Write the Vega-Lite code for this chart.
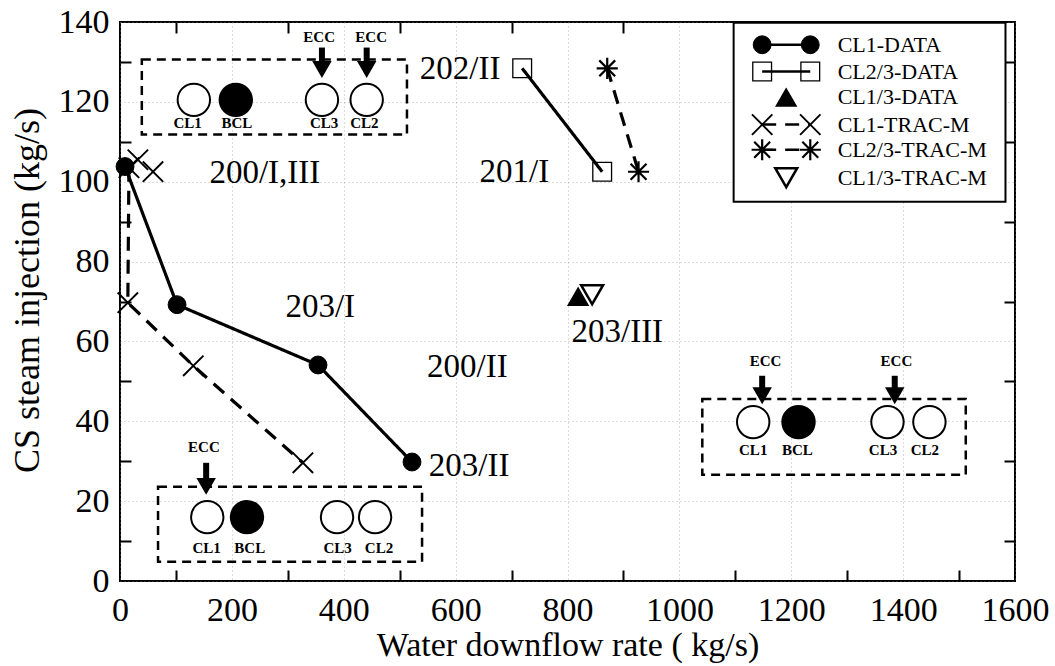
{
  "$schema": "https://vega.github.io/schema/vega-lite/v6.json",
  "width": 895,
  "height": 559,
  "autosize": {"type": "none"},
  "padding": {"left": 120, "top": 22, "right": 40, "bottom": 85},
  "background": "white",
  "config": {
    "view": {"stroke": "black", "strokeWidth": 2},
    "font": "Liberation Serif",
    "text": {"font": "Liberation Serif", "color": "black"},
    "axis": {"labelFont": "Liberation Serif", "titleFont": "Liberation Serif", "labelColor": "black", "titleColor": "black", "titleFontWeight": "normal"}
  },
  "datasets": {
    "pts": [
      {"s": "CL1-DATA", "x": 9, "y": 103.8, "o": 1, "ln": true},
      {"s": "CL1-DATA", "x": 102, "y": 69.2, "o": 2, "ln": true},
      {"s": "CL1-DATA", "x": 354, "y": 54.1, "o": 3, "ln": true},
      {"s": "CL1-DATA", "x": 522, "y": 29.8, "o": 4, "ln": true},
      {"s": "CL1-TRAC-M", "x": 16, "y": 103.5, "o": 1, "ln": true},
      {"s": "CL1-TRAC-M", "x": 14, "y": 69.7, "o": 2, "ln": true},
      {"s": "CL1-TRAC-M", "x": 131, "y": 53.9, "o": 3, "ln": true},
      {"s": "CL1-TRAC-M", "x": 327, "y": 29.6, "o": 4, "ln": true},
      {"s": "CL1-TRAC-M", "x": 32, "y": 105.5, "o": 0, "ln": false},
      {"s": "CL1-TRAC-M", "x": 59, "y": 102.5, "o": 0, "ln": false},
      {"s": "CL2/3-DATA", "x": 719, "y": 128.4, "o": 1, "ln": true},
      {"s": "CL2/3-DATA", "x": 862, "y": 102.5, "o": 2, "ln": true},
      {"s": "CL2/3-TRAC-M", "x": 871, "y": 128.4, "o": 1, "ln": true},
      {"s": "CL2/3-TRAC-M", "x": 927, "y": 102.5, "o": 2, "ln": true},
      {"s": "CL1/3-DATA", "x": 819, "y": 71.2, "o": 1, "ln": false},
      {"s": "CL1/3-TRAC-M", "x": 844, "y": 71.7, "o": 1, "ln": false}
    ],
    "labels": [
      {"t": "200/I,III", "x": 259, "y": 102.3},
      {"t": "201/I", "x": 705, "y": 102.5},
      {"t": "202/II", "x": 608, "y": 128.3},
      {"t": "203/I", "x": 358, "y": 68.7},
      {"t": "200/II", "x": 621, "y": 53.6},
      {"t": "203/II", "x": 624, "y": 28.8},
      {"t": "203/III", "x": 889, "y": 62.4}
    ],
    "boxes": [
      {"x": 39, "x2": 513, "y": 111.8, "y2": 130.6},
      {"x": 68, "x2": 540, "y": 4.8, "y2": 23.6},
      {"x": 1041, "x2": 1512, "y": 26.6, "y2": 45.6}
    ],
    "circles": [
      {"t": "CL1", "x": 132, "y": 120.5},
      {"t": "BCL", "x": 207, "y": 120.5},
      {"t": "CL3", "x": 361, "y": 120.5},
      {"t": "CL2", "x": 441, "y": 120.5},
      {"t": "CL1", "x": 156, "y": 16.0},
      {"t": "BCL", "x": 227, "y": 16.0},
      {"t": "CL3", "x": 388, "y": 16.0},
      {"t": "CL2", "x": 456, "y": 16.0},
      {"t": "CL1", "x": 1132, "y": 39.8},
      {"t": "BCL", "x": 1213, "y": 39.8},
      {"t": "CL3", "x": 1372, "y": 39.8},
      {"t": "CL2", "x": 1447, "y": 39.8}
    ],
    "ilabels": [
      {"t": "CL1", "x": 121, "y": 114.8},
      {"t": "BCL", "x": 209, "y": 114.8},
      {"t": "CL3", "x": 365, "y": 114.8},
      {"t": "CL2", "x": 437, "y": 114.8},
      {"t": "ECC", "x": 356, "y": 136.3},
      {"t": "ECC", "x": 449, "y": 136.3},
      {"t": "CL1", "x": 155, "y": 8.3},
      {"t": "BCL", "x": 232, "y": 8.3},
      {"t": "CL3", "x": 389, "y": 8.3},
      {"t": "CL2", "x": 463, "y": 8.3},
      {"t": "ECC", "x": 150, "y": 33.6},
      {"t": "CL1", "x": 1132, "y": 32.7},
      {"t": "BCL", "x": 1211, "y": 32.7},
      {"t": "CL3", "x": 1364, "y": 32.7},
      {"t": "CL2", "x": 1439, "y": 32.7},
      {"t": "ECC", "x": 1154, "y": 55.0},
      {"t": "ECC", "x": 1388, "y": 55.0}
    ],
    "arrows": [
      {"x": 361, "ya": 133.6, "yb": 128.1},
      {"x": 441, "ya": 133.6, "yb": 128.1},
      {"x": 154, "ya": 29.6, "yb": 23.7},
      {"x": 1148, "ya": 51.4, "yb": 46.4},
      {"x": 1385, "ya": 51.4, "yb": 46.4}
    ],
    "legbox": [{"x": 1097, "x2": 1583, "y": 95, "y2": 139.8}],
    "leglines": [
      {"s": "CL1-DATA", "x": 1148, "x2": 1234, "y": 134.3},
      {"s": "CL2/3-DATA", "x": 1148, "x2": 1234, "y": 127.6},
      {"s": "CL1-TRAC-M", "x": 1148, "x2": 1234, "y": 114.3},
      {"s": "CL2/3-TRAC-M", "x": 1148, "x2": 1234, "y": 108.0}
    ],
    "legpts": [
      {"s": "CL1-DATA", "x": 1148, "y": 134.3},
      {"s": "CL1-DATA", "x": 1234, "y": 134.3},
      {"s": "CL2/3-DATA", "x": 1148, "y": 127.6},
      {"s": "CL2/3-DATA", "x": 1234, "y": 127.6},
      {"s": "CL1/3-DATA", "x": 1191, "y": 121.1},
      {"s": "CL1-TRAC-M", "x": 1148, "y": 114.3},
      {"s": "CL1-TRAC-M", "x": 1234, "y": 114.3},
      {"s": "CL2/3-TRAC-M", "x": 1148, "y": 108.0},
      {"s": "CL2/3-TRAC-M", "x": 1234, "y": 108.0},
      {"s": "CL1/3-TRAC-M", "x": 1191, "y": 101.0}
    ],
    "legtext": [
      {"t": "CL1-DATA", "x": 1283, "y": 134.3},
      {"t": "CL2/3-DATA", "x": 1283, "y": 127.6},
      {"t": "CL1/3-DATA", "x": 1283, "y": 121.1},
      {"t": "CL1-TRAC-M", "x": 1283, "y": 114.3},
      {"t": "CL2/3-TRAC-M", "x": 1283, "y": 108.0},
      {"t": "CL1/3-TRAC-M", "x": 1283, "y": 101.0}
    ]
  },
  "resolve": {"axis": {"x": "independent", "y": "independent"}},
  "layer": [
    {
      "data": {"name": "boxes"},
      "mark": {"type": "rect", "fill": "white", "fillOpacity": 0, "stroke": "black", "strokeWidth": 2.5, "strokeDash": [9, 6]},
      "encoding": {
        "x": {
          "field": "x", "type": "quantitative",
          "scale": {"domain": [0, 1600], "nice": false, "zero": false},
          "axis": {
            "orient": "bottom",
            "values": [0, 100, 200, 300, 400, 500, 600, 700, 800, 900, 1000, 1100, 1200, 1300, 1400, 1500, 1600],
            "format": "d",
            "labelExpr": "datum.value % 200 === 0 ? datum.label : ''",
            "labelFontSize": 34, "labelPadding": 23, "labelFlush": false, "labelOverlap": false,
            "tickSize": -11, "tickWidth": 2, "tickColor": "black",
            "tickOpacity": {"condition": {"test": "datum.value % 200 === 0", "value": 0}, "value": 1},
            "domain": false,
            "grid": true, "gridColor": "#888888", "gridDash": [1, 3], "gridWidth": 1,
            "gridOpacity": {"condition": {"test": "datum.value % 200 === 0", "value": 0.6}, "value": 0},
            "title": "Water downflow rate ( kg/s)", "titleFontSize": 34, "titlePadding": 1
          }
        },
        "x2": {"field": "x2"},
        "y": {
          "field": "y", "type": "quantitative",
          "scale": {"domain": [0, 140], "nice": false, "zero": false},
          "axis": {
            "orient": "left",
            "values": [0, 10, 20, 30, 40, 50, 60, 70, 80, 90, 100, 110, 120, 130, 140],
            "labelExpr": "datum.value % 20 === 0 ? datum.label : ''",
            "labelFontSize": 34, "labelPadding": 22, "labelFlush": false, "labelOverlap": false,
            "tickSize": -11, "tickWidth": 2, "tickColor": "black",
            "tickOpacity": {"condition": {"test": "datum.value % 20 === 0", "value": 0}, "value": 1},
            "domain": false,
            "grid": true, "gridColor": "#888888", "gridDash": [1, 3], "gridWidth": 1,
            "gridOpacity": {"condition": {"test": "datum.value % 20 === 0", "value": 0.6}, "value": 0},
            "title": "CS steam injection (kg/s)", "titleFontSize": 36, "titlePadding": 12, "titleY": 268
          }
        },
        "y2": {"field": "y2"}
      }
    },
    {
      "data": {"name": "labels"},
      "mark": {"type": "text", "fontSize": 33, "align": "center", "baseline": "middle"},
      "encoding": {
        "x": {
          "field": "x", "type": "quantitative",
          "axis": {"orient": "top", "values": [100, 300, 500, 700, 900, 1100, 1300, 1500], "labels": false, "tickSize": -11, "tickWidth": 2, "tickColor": "black", "domain": false, "grid": false, "title": null}
        },
        "y": {
          "field": "y", "type": "quantitative",
          "axis": {"orient": "right", "values": [10, 30, 50, 70, 90, 110, 130], "labels": false, "tickSize": -11, "tickWidth": 2, "tickColor": "black", "domain": false, "grid": false, "title": null}
        },
        "text": {"field": "t"}
      }
    },
    {
      "data": {"name": "circles"},
      "mark": {"type": "point", "shape": "circle", "size": 1050, "stroke": "black", "strokeWidth": 2, "opacity": 1},
      "encoding": {
        "x": {"field": "x", "type": "quantitative", "axis": null},
        "y": {"field": "y", "type": "quantitative", "axis": null},
        "fill": {"condition": {"test": "datum.t === 'BCL'", "value": "black"}, "value": "white"}
      }
    },
    {
      "data": {"name": "ilabels"},
      "mark": {"type": "text", "fontSize": 15, "fontWeight": "bold", "align": "center", "baseline": "middle"},
      "encoding": {
        "x": {"field": "x", "type": "quantitative", "axis": null},
        "y": {"field": "y", "type": "quantitative", "axis": null},
        "text": {"field": "t"}
      }
    },
    {
      "data": {"name": "arrows"},
      "mark": {"type": "rule", "color": "black", "strokeWidth": 6},
      "encoding": {
        "x": {"field": "x", "type": "quantitative", "axis": null},
        "y": {"field": "ya", "type": "quantitative", "axis": null},
        "y2": {"field": "yb"}
      }
    },
    {
      "data": {"name": "arrows"},
      "mark": {"type": "point", "shape": "triangle-down", "filled": true, "color": "black", "size": 380, "opacity": 1},
      "encoding": {
        "x": {"field": "x", "type": "quantitative", "axis": null},
        "y": {"field": "yb", "type": "quantitative", "axis": null}
      }
    },
    {
      "data": {"name": "pts"},
      "transform": [{"filter": "datum.ln"}],
      "mark": {"type": "line", "color": "black", "strokeWidth": 3.2},
      "encoding": {
        "x": {"field": "x", "type": "quantitative", "axis": null},
        "y": {"field": "y", "type": "quantitative", "axis": null},
        "detail": {"field": "s", "type": "nominal"},
        "order": {"field": "o", "type": "quantitative"},
        "strokeDash": {"field": "s", "type": "nominal", "scale": {"domain": ["CL1-DATA", "CL2/3-DATA", "CL1-TRAC-M", "CL2/3-TRAC-M"], "range": [[1, 0], [1, 0], [14, 9], [14, 9]]}, "legend": null}
      }
    },
    {
      "data": {"name": "legbox"},
      "mark": {"type": "rect", "fill": "white", "stroke": "black", "strokeWidth": 2},
      "encoding": {
        "x": {"field": "x", "type": "quantitative", "axis": null},
        "x2": {"field": "x2"},
        "y": {"field": "y", "type": "quantitative", "axis": null},
        "y2": {"field": "y2"}
      }
    },
    {
      "data": {"name": "leglines"},
      "mark": {"type": "rule", "color": "black", "strokeWidth": 2.5},
      "encoding": {
        "x": {"field": "x", "type": "quantitative", "axis": null},
        "x2": {"field": "x2"},
        "y": {"field": "y", "type": "quantitative", "axis": null},
        "strokeDash": {"field": "s", "type": "nominal", "legend": null}
      }
    },
    {
      "data": {"name": "pts"},
      "mark": {"type": "point", "stroke": "black", "opacity": 1},
      "encoding": {
        "x": {"field": "x", "type": "quantitative", "axis": null},
        "y": {"field": "y", "type": "quantitative", "axis": null},
        "shape": {"field": "s", "type": "nominal", "scale": {"domain": ["CL1-DATA", "CL2/3-DATA", "CL1/3-DATA", "CL1-TRAC-M", "CL2/3-TRAC-M", "CL1/3-TRAC-M"], "range": ["circle", "square", "triangle-up", "M-1,-1L1,1M-1,1L1,-1", "M0,-1L0,1M-1,0L1,0M-0.75,-0.75L0.75,0.75M-0.75,0.75L0.75,-0.75", "triangle-down"]}, "legend": null},
        "fill": {"field": "s", "type": "nominal", "scale": {"domain": ["CL1-DATA", "CL2/3-DATA", "CL1/3-DATA", "CL1-TRAC-M", "CL2/3-TRAC-M", "CL1/3-TRAC-M"], "range": ["black", "transparent", "black", "transparent", "transparent", "transparent"]}, "legend": null},
        "size": {"field": "s", "type": "ordinal", "scale": {"domain": ["CL1-DATA", "CL2/3-DATA", "CL1/3-DATA", "CL1-TRAC-M", "CL2/3-TRAC-M", "CL1/3-TRAC-M"], "range": [320, 480, 200, 420, 600, 180]}, "legend": null},
        "strokeWidth": {"field": "s", "type": "ordinal", "scale": {"domain": ["CL1-DATA", "CL2/3-DATA", "CL1/3-DATA", "CL1-TRAC-M", "CL2/3-TRAC-M", "CL1/3-TRAC-M"], "range": [1, 2.5, 1, 3.5, 2.5, 2]}, "legend": null}
      }
    },
    {
      "data": {"name": "legpts"},
      "mark": {"type": "point", "stroke": "black", "opacity": 1},
      "encoding": {
        "x": {"field": "x", "type": "quantitative", "axis": null},
        "y": {"field": "y", "type": "quantitative", "axis": null},
        "shape": {"field": "s", "type": "nominal", "legend": null},
        "fill": {"field": "s", "type": "nominal", "legend": null},
        "size": {"field": "s", "type": "ordinal", "legend": null},
        "strokeWidth": {"field": "s", "type": "ordinal", "legend": null}
      }
    },
    {
      "data": {"name": "legtext"},
      "mark": {"type": "text", "fontSize": 22, "align": "left", "baseline": "middle"},
      "encoding": {
        "x": {"field": "x", "type": "quantitative", "axis": null},
        "y": {"field": "y", "type": "quantitative", "axis": null},
        "text": {"field": "t"}
      }
    }
  ]
}
